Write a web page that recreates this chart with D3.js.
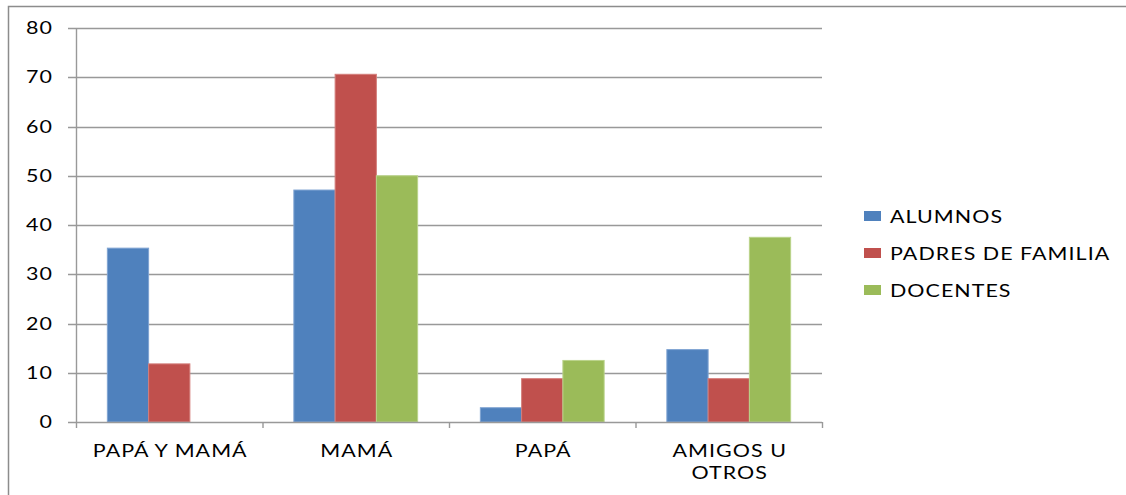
<!DOCTYPE html>
<html>
<head>
<meta charset="utf-8">
<script src="https://cdn.jsdelivr.net/npm/d3@7"></script>
<style>
  body { margin: 0; background: #fff; }
  svg text { font-family: Lato, 'Open Sans', sans-serif; fill: #000; }
</style>
</head>
<body>
<svg id="chart" width="1126" height="495"></svg>
<script>
// values (percentages)
const categories = ['PAPÁ Y MAMÁ', 'MAMÁ', 'PAPÁ', 'AMIGOS U OTROS']
const series = ['ALUMNOS', 'PADRES DE FAMILIA', 'DOCENTES']
const alumnos = [35.3, 47.1, 2.9, 14.7]
const padres = [11.8, 70.6, 8.8, 8.8]
const docentes = [0, 50, 12.5, 37.5]
const yTicks = [0, 10, 20, 30, 40, 50, 60, 70, 80]
const colors = ['#4F81BD', '#C0504D', '#9BBB59']
const edges = ['#7FA3D2', '#D47E7B', '#BAD38A']

const values = [alumnos, padres, docentes]
const svg = d3.select('#chart')
const stretch = 1.3 // the labels are drawn wide in the original

// outer frame of the chart (cropped on the right and bottom)
svg.append('rect')
  .attr('x', 8.5).attr('y', 6.5)
  .attr('width', 1200).attr('height', 600)
  .attr('fill', 'none').attr('stroke', '#8c8c8c').attr('stroke-width', 1.5)

const plotLeft = 76
const plotRight = 822
const plotTop = 28
const plotBottom = 422

const x = d3.scaleBand().domain(categories).range([plotLeft, plotRight])
const xs = d3.scaleBand().domain(series).range([0, x.bandwidth()]).paddingOuter(0.76).paddingInner(0)
const y = d3.scaleLinear().domain([0, 80]).range([plotBottom, plotTop])

function wideText (parent, tx, ty, str, anchor, size) {
  return parent.append('g')
    .attr('transform', `translate(${tx},${ty}) scale(${stretch},1)`)
    .append('text')
    .attr('text-anchor', anchor)
    .attr('font-size', size)
    .attr('letter-spacing', 0.8)
    .text(str)
}

// gridlines
svg.append('g').selectAll('line')
  .data(yTicks.filter(d => d > 0))
  .enter().append('line')
  .attr('x1', plotLeft - 8).attr('x2', plotRight)
  .attr('y1', d => Math.round(y(d)) + 0.5).attr('y2', d => Math.round(y(d)) + 0.5)
  .attr('stroke', '#999').attr('stroke-width', 1.4)

// bars
categories.forEach((c, i) => {
  series.forEach((s, j) => {
    const v = values[j][i]
    if (v <= 0) return
    svg.append('rect')
      .attr('x', x(c) + xs(s))
      .attr('y', y(v))
      .attr('width', xs.bandwidth())
      .attr('height', y(0) - y(v))
      .attr('fill', colors[j])
      .attr('stroke', edges[j]).attr('stroke-width', 1)
  })
})

// axes
svg.append('line')
  .attr('x1', plotLeft - 8).attr('x2', plotRight)
  .attr('y1', plotBottom + 0.5).attr('y2', plotBottom + 0.5)
  .attr('stroke', '#999').attr('stroke-width', 1.4)
svg.append('line')
  .attr('x1', plotLeft + 0.5).attr('x2', plotLeft + 0.5)
  .attr('y1', plotTop).attr('y2', plotBottom + 6)
  .attr('stroke', '#999').attr('stroke-width', 1.4)

svg.append('g').selectAll('line')
  .data(categories)
  .enter().append('line')
  .attr('x1', d => x(d) + x.bandwidth() + 0.5).attr('x2', d => x(d) + x.bandwidth() + 0.5)
  .attr('y1', plotBottom).attr('y2', plotBottom + 6)
  .attr('stroke', '#999').attr('stroke-width', 1.4)

// y labels
const yLabels = svg.append('g')
yTicks.forEach(d => {
  wideText(yLabels, 53, y(d) + 6, d, 'end', 16.5)
})

// category labels
const labelLines = { 'AMIGOS U OTROS': ['AMIGOS U', 'OTROS'] }
const xLabels = svg.append('g')
categories.forEach(c => {
  const lines = labelLines[c] || [c]
  lines.forEach((l, k) => {
    wideText(xLabels, x(c) + x.bandwidth() / 2 + 1, 457 + k * 22, l, 'middle', 16.5)
  })
})

// legend
const legend = svg.append('g').attr('transform', 'translate(864, 211)')
series.forEach((s, j) => {
  const g = legend.append('g').attr('transform', `translate(0, ${j * 37})`)
  g.append('rect').attr('width', 17).attr('height', 10).attr('fill', colors[j])
  wideText(g, 26, 12, s, 'start', 16.5)
})
</script>
</body>
</html>
